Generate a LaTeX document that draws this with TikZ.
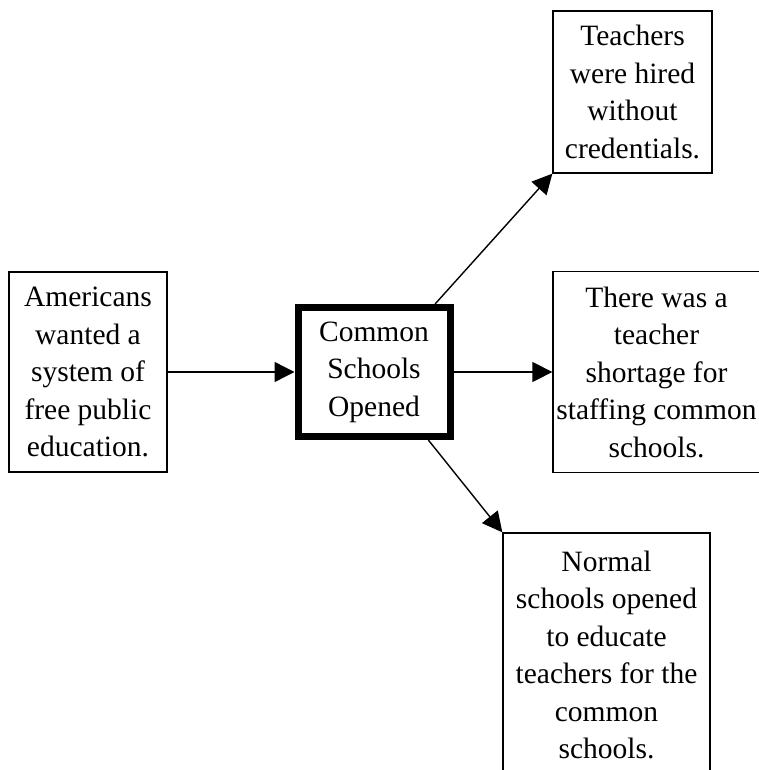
\documentclass[tikz,border=0pt]{standalone}
\usepackage{fontspec}
\setmainfont{Liberation Serif}
\usetikzlibrary{arrows.meta}

\begin{document}
\begin{tikzpicture}[x=1pt,y=-1pt,
	box/.style={draw,line width=1.3pt,align=center,inner sep=0pt,font=\fontsize{29.5}{37.5}\selectfont},
	link/.style={line width=1.4pt,-{Triangle[length=20pt,width=20pt]}}]
	\useasboundingbox (0,0) rectangle (759,770);
	\clip (0,0) rectangle (759,770);
	\node[box,minimum width=158pt,minimum height=200pt] (want) at (88,372) {Americans\\wanted a\\system of\\free public\\education.};
	\node[box,line width=7pt,minimum width=152pt,minimum height=129pt] (open) at (374,372) {Common\\Schools\\Opened};
	\node[box,minimum width=159pt,minimum height=162pt] (hired) at (632.5,92) {Teachers\\were hired\\without\\credentials.};
	\node[box,minimum width=207pt,minimum height=201pt] (short) at (656.5,372) {There was a\\teacher\\shortage for\\staffing common\\schools.};
	\node[box,minimum width=207pt,minimum height=244pt] (normal) at (606.5,655) {Normal\\schools opened\\to educate\\teachers for the\\common\\schools.};
	\draw[link](want)--(open);
	\draw[link](open)--(short);
	\draw[link](open)--(hired.south west);
	\draw[link](open)--(normal.north west);
\end{tikzpicture}
\end{document}
